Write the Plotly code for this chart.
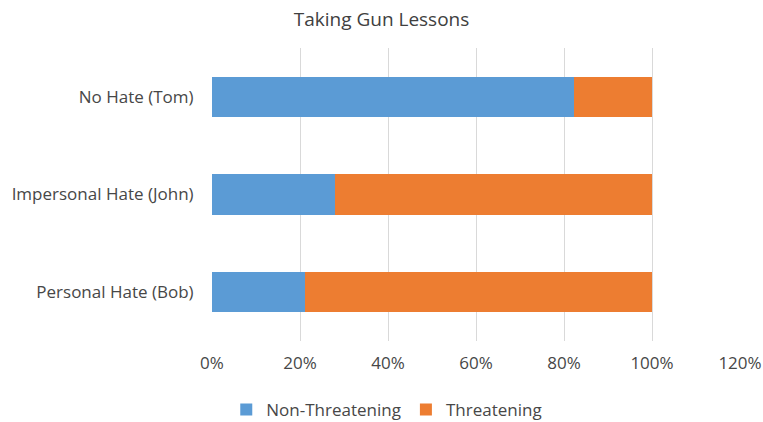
import plotly.graph_objects as go

categories = ["No Hate (Tom)", "Impersonal Hate (John)", "Personal Hate (Bob)"]
non_threatening = [0.823, 0.280, 0.212]
threatening = [0.177, 0.720, 0.788]
x_ticks = [0, 0.2, 0.4, 0.6, 0.8, 1.0, 1.2]
x_tick_labels = ["0%", "20%", "40%", "60%", "80%", "100%", "120%"]

FONT = "Open Sans"

fig = go.Figure()
fig.add_trace(go.Bar(y=categories, x=non_threatening, name="Non-Threatening",
                     orientation="h", marker=dict(color="#5B9BD5", line=dict(width=0))))
fig.add_trace(go.Bar(y=categories, x=threatening, name="Threatening",
                     orientation="h", marker=dict(color="#ED7D31", line=dict(width=0))))

fig.update_layout(
    width=763, height=422,
    barmode="stack", bargap=0.59,
    paper_bgcolor="white", plot_bgcolor="white",
    margin=dict(l=212, r=23, t=48, b=81, autoexpand=False),
    font=dict(family=FONT, size=17, color="#474747"),
    title=dict(text="Taking Gun Lessons", x=0.5, xanchor="center", y=0.955, yanchor="middle",
               font=dict(family=FONT, size=19, color="#404040")),
    legend=dict(orientation="h", x=0.331, xanchor="center", y=-0.235, yanchor="middle",
                font=dict(family=FONT, size=17, color="#474747"), traceorder="normal",
                itemwidth=30),
    xaxis=dict(range=[0, 1.2], tickvals=x_ticks, ticktext=x_tick_labels,
               showgrid=True, gridcolor="#d9d9d9", gridwidth=1, zeroline=False,
               showline=False, ticks="outside", ticklen=7, tickcolor="rgba(0,0,0,0)",
               automargin=False),
    yaxis=dict(categoryorder="array", categoryarray=categories[::-1],
               showgrid=False, zeroline=False, showline=False,
               ticks="outside", ticklen=14, tickcolor="rgba(0,0,0,0)",
               automargin=False),
)

fig.write_html("out.html")
